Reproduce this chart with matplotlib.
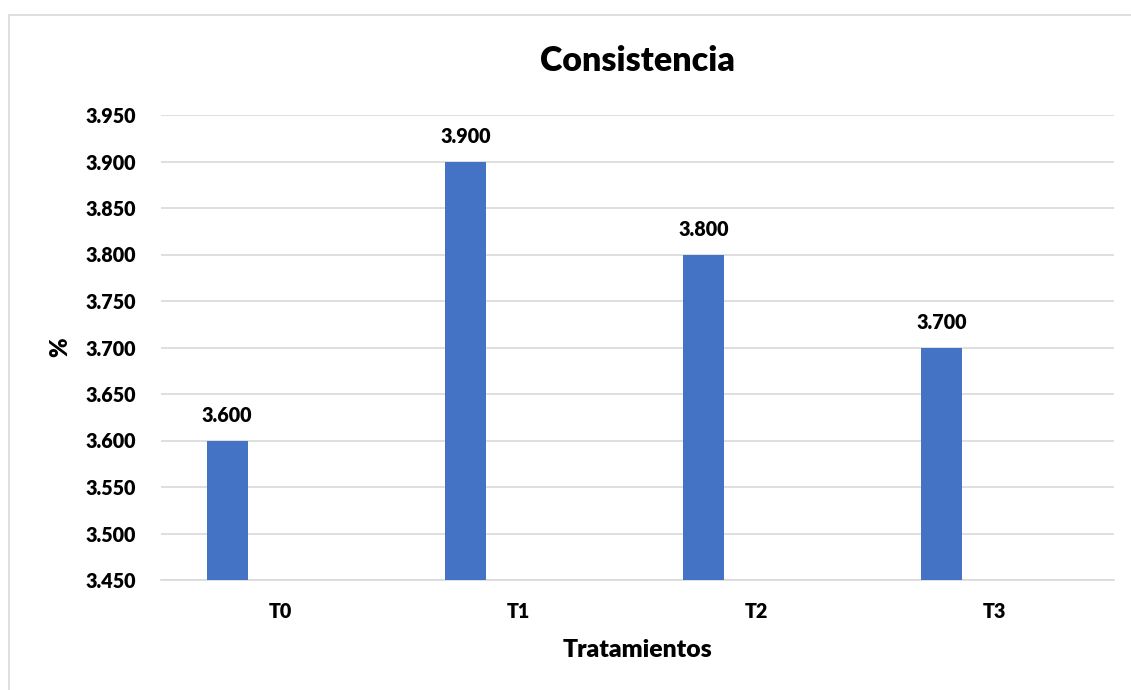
import matplotlib
matplotlib.use("Agg")
import matplotlib.pyplot as plt
from matplotlib.patches import Rectangle

categories = ["T0", "T1", "T2", "T3"]
values = [3.600, 3.900, 3.800, 3.700]
yticks = [3.450, 3.500, 3.550, 3.600, 3.650, 3.700, 3.750, 3.800, 3.850, 3.900, 3.950]

plt.rcParams['font.family'] = ['Lato', 'DejaVu Sans']
W, H = 1131, 690
fig = plt.figure(figsize=(W/100, H/100), dpi=100)
fig.patch.set_facecolor("white")

# outer chart border
fig.patches.append(Rectangle((9/W, -0.01), 1.05, 1 - 15/H + 0.01, transform=fig.transFigure,
                             fill=False, edgecolor="#D9D9D9", linewidth=1.2))

ax = fig.add_axes([161/W, 1 - 580/H, 953/W, 465/H])
x = list(range(len(categories)))
offset = -0.222
width = 0.172
ax.bar([i + offset for i in x], [v - yticks[0] for v in values], bottom=yticks[0],
       width=width, color="#4472C4", zorder=3)
for i, v in zip(x, values):
    ax.annotate(f"{v:.3f}", (i + offset, v), xytext=(0, 11.5), textcoords="offset points",
                ha="center", va="bottom", fontsize=14.2, fontweight=800, color="#000000")

ax.set_xlim(-0.5, len(categories) - 0.5)
ax.set_ylim(yticks[0], yticks[-1])
ax.set_yticks(yticks)
ax.set_yticklabels([f"{t:.3f}" for t in yticks], fontsize=14.2, fontweight=800)
ax.set_xticks(x)
ax.set_xticklabels(categories, fontsize=14.2, fontweight=800)
ax.tick_params(axis="both", length=0, colors="#000000")
ax.tick_params(axis="y", pad=18)
ax.tick_params(axis="x", pad=16)
ax.grid(axis="y", color="#D9D9D9", linewidth=1.2, zorder=0)
for s in ["top", "right", "left"]:
    ax.spines[s].set_visible(False)
ax.spines["bottom"].set_color("#D9D9D9")
ax.spines["bottom"].set_linewidth(1.2)

ax.set_xlabel("Tratamientos", fontsize=17.8, fontweight=800, labelpad=13)
ax.set_ylabel("%", fontsize=17, fontweight=800, labelpad=10)
fig.text((161 + 953/2)/W, 1 - 61/H, "Consistencia", ha="center", va="center",
         fontsize=24.5, fontweight=800)

fig.savefig("out.png", dpi=100, facecolor="white")
